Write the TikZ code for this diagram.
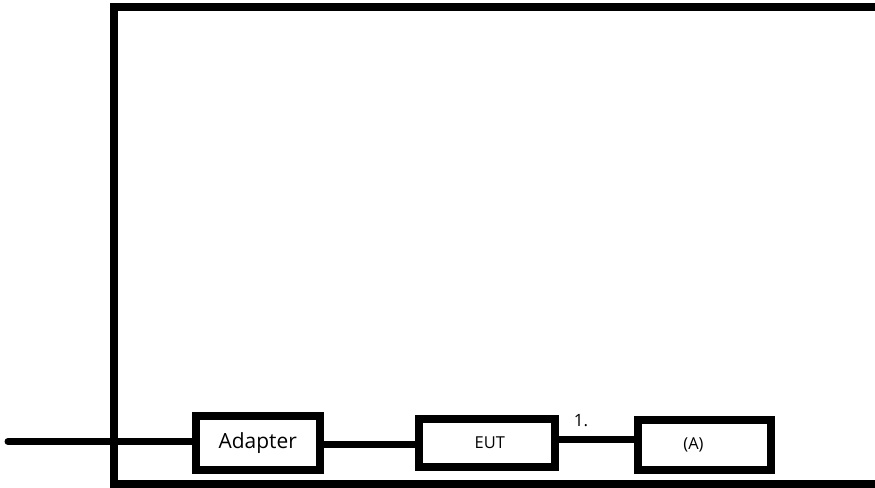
\documentclass[tikz,border=0pt]{standalone}
\usepackage{fontspec}
\setmainfont{Open Sans}
\begin{document}
\begin{tikzpicture}[x=1bp,y=-1bp,
  thick line/.style={line width=8bp},
  unitbox/.style={draw,line width=8bp,rectangle,inner sep=0pt,outer sep=0pt},
  wire/.style={line width=7bp}]
\useasboundingbox (0,0) rectangle (875,488);
% enclosure
\draw[thick line] (885,7) -- (114,7) -- (114,484) -- (885,484);
% units
\node[unitbox,minimum width=123.5bp,minimum height=53.5bp,font=\fontsize{21}{24}\selectfont]
  (adapter) at (257.75,442.75) {Adapter};
\node[unitbox,minimum width=135.5bp,minimum height=48bp,font=\fontsize{16.5}{18}\selectfont]
  (eut) at (486.75,443) {EUT\hspace*{-6bp}};
\node[unitbox,minimum width=133bp,minimum height=50.5bp,font=\fontsize{16.5}{18}\selectfont]
  (ameter) at (704.5,444.75) {(A)\hspace*{22bp}};
% wiring
\coordinate (plug) at (8,441.5);
\draw[wire,line cap=round] (plug) -- (plug -| adapter.west);
\coordinate (j1) at (0,444);
\draw[wire] (j1 -| adapter.east) -- (j1 -| eut.west);
\coordinate (j2) at (0,439.5);
\draw[wire] (j2 -| eut.east) -- (j2 -| ameter.west);
\node[font=\fontsize{17}{18}\selectfont,inner sep=0pt] (lbl) at (581,421) {1.};
\end{tikzpicture}
\end{document}
